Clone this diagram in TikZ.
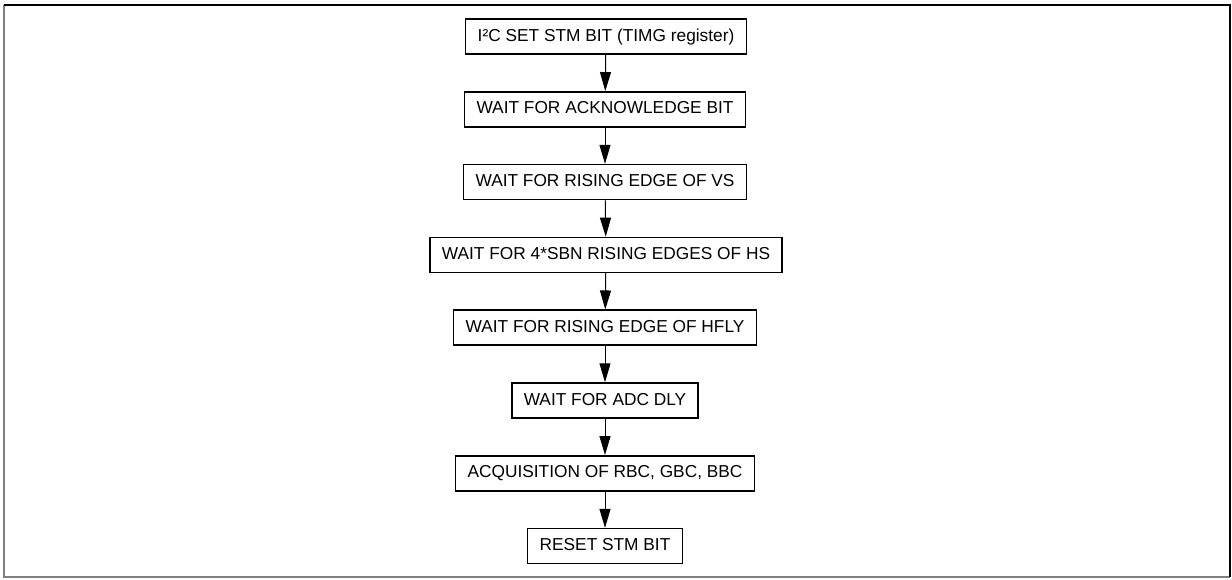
\documentclass[tikz,border=0pt]{standalone}
\usepackage{fontspec}
\setmainfont{Liberation Sans}
\usetikzlibrary{arrows.meta}
\pgfdeclarelayer{edgelayer}
\pgfdeclarelayer{nodelayer}
\pgfsetlayers{edgelayer,nodelayer,main}
\tikzstyle{none} = []
\tikzstyle{flow box} = [draw, line width=1.5pt, fill=white, minimum height=35pt, inner xsep=12pt, text height=12.6pt, text depth=3.6pt, font=\fontsize{17.3}{20}\selectfont]
\tikzstyle{flow arrow} = [-{Triangle[width=11pt,length=19pt]}, line width=1pt]
\tikzstyle{frame dark} = [line width=1.5pt, black]
\tikzstyle{frame light} = [line width=1.5pt, gray]

\begin{document}
\begin{tikzpicture}[x=1pt, y=-1pt]
	\useasboundingbox (0, 0) rectangle (1232, 579);
	\begin{pgfonlayer}{nodelayer}
		\node [style=flow box] (0) at (606, 36.5) {I²C SET STM BIT (TIMG register)};
		\node [style=flow box] (1) at (605, 109.3) {WAIT FOR ACKNOWLEDGE BIT};
		\node [style=flow box] (2) at (605, 182.1) {WAIT FOR RISING EDGE OF VS};
		\node [style=flow box] (3) at (606, 254.9) {WAIT FOR 4*SBN RISING EDGES OF HS};
		\node [style=flow box] (4) at (605, 327.7) {WAIT FOR RISING EDGE OF HFLY};
		\node [style=flow box] (5) at (605, 400.5) {WAIT FOR ADC DLY};
		\node [style=flow box] (6) at (605, 473.3) {ACQUISITION OF RBC, GBC, BBC};
		\node [style=flow box] (7) at (605, 546.1) {RESET STM BIT};
		\node [style=none] (8) at (4, 5) {};
		\node [style=none] (9) at (1230, 5) {};
		\node [style=none] (10) at (1230, 577) {};
		\node [style=none] (11) at (4, 577) {};
	\end{pgfonlayer}
	\begin{pgfonlayer}{edgelayer}
		\draw [style=frame light] (8.center) to (11.center) to (10.center);
		\draw [style=frame dark] (8.center) to (9.center) to (10.center);
		\draw [style=flow arrow] (0) to (1);
		\draw [style=flow arrow] (1) to (2);
		\draw [style=flow arrow] (2) to (3);
		\draw [style=flow arrow] (3) to (4);
		\draw [style=flow arrow] (4) to (5);
		\draw [style=flow arrow] (5) to (6);
		\draw [style=flow arrow] (6) to (7);
	\end{pgfonlayer}
\end{tikzpicture}
\end{document}
